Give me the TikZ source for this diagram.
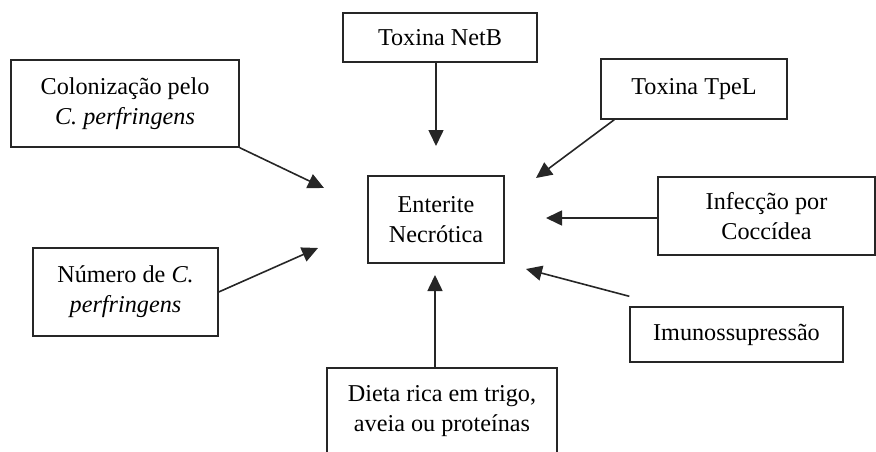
\documentclass[tikz,border=0pt]{standalone}
\usepackage{fontspec}
\setmainfont{Liberation Serif}
\usetikzlibrary{arrows.meta}

\tikzset{
  caixa/.style={draw=black!85, line width=1.4pt, align=center, inner sep=0pt,
    font=\fontsize{24.2}{30}\selectfont},
  seta/.style={line width=1.6pt, draw=black!85,
    -{Triangle[length=16pt,width=15pt]}}
}

\begin{document}
\begin{tikzpicture}[x=1pt,y=-1pt]
		\useasboundingbox (0,0) rectangle (876,452);

		\node[caixa, minimum width=136pt, minimum height=87pt] (ent) at (436,219.5) {Enterite\\Necrótica};

		\node[caixa, minimum width=228pt, minimum height=87pt] (colon) at (125,103.5) {Colonização pelo\\\textit{C. perfringens}};
		\node[caixa, minimum width=194pt, minimum height=49pt] (netb) at (440,37.5) {Toxina NetB};
		\node[caixa, minimum width=186pt, minimum height=60pt] (tpel) at (694,89) {Toxina TpeL};
		\node[caixa, minimum width=217pt, minimum height=78pt] (infec) at (766.5,216) {Infecção por\\Coccídea};
		\node[caixa, minimum width=213pt, minimum height=55pt] (imuno) at (736.5,334.5) {Imunossupressão};
		\node[caixa, minimum width=185pt, minimum height=88pt] (num) at (125.5,292) {Número de \textit{C.}\\\textit{perfringens}};
		\node[caixa, minimum width=230pt, minimum height=100pt, text depth=20pt] (dieta) at (442,418) {Dieta rica em trigo,\\aveia ou proteínas};

		% pontas das setas
		\coordinate (p1) at (324,188);
		\coordinate (p2) at (436,146);
		\coordinate (p3) at (536,178);
		\coordinate (p4) at (546,218);
		\coordinate (p5) at (526,269);
		\coordinate (p6) at (318,248);
		\coordinate (p7) at (435,275);

		\draw[seta] (colon.south east) -- (p1);
		\draw[seta] (netb.south -| p2) -- (p2);
		\draw[seta] ([xshift=14pt]tpel.south west) -- (p3);
		\draw[seta] (infec.west |- p4) -- (p4);
		\draw[seta] ([yshift=10pt]imuno.north west) -- (p5);
		\draw[seta] (num.east) -- (p6);
		\draw[seta] (dieta.north -| p7) -- (p7);
\end{tikzpicture}
\end{document}
